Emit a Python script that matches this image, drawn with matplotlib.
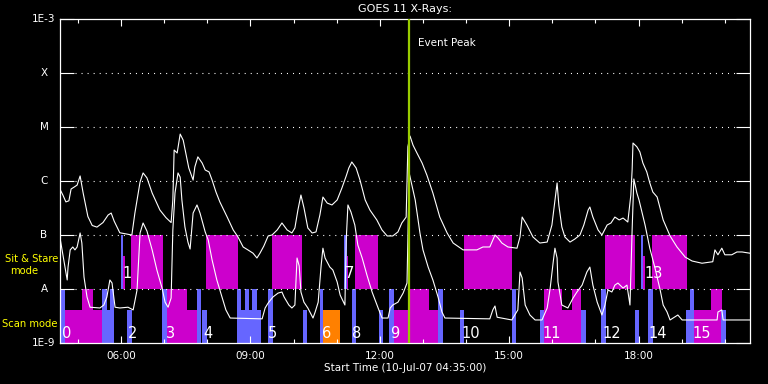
import matplotlib
matplotlib.use("Agg")
import matplotlib.pyplot as plt
from matplotlib.ticker import FixedLocator, NullLocator

plt.rcParams['lines.scale_dashes'] = False
plt.rcParams['font.family'] = 'DejaVu Sans'

# time axis in hours of day (UT), 10-Jul-07
t_start = 4 + 35 / 60.
t_end = t_start + 16
event_peak = 12.68

# GOES 11 long channel (1-8 A), W/m^2
long_t = [4.58, 4.65, 4.72, 4.79, 4.84, 4.91, 4.98, 5.05, 5.12, 5.23,
          5.33, 5.44, 5.58, 5.70, 5.77, 5.84, 5.97, 6.14, 6.25, 6.32,
          6.39, 6.44, 6.51, 6.60, 6.72, 6.90, 7.04, 7.16, 7.20, 7.23,
          7.30, 7.37, 7.44, 7.51, 7.57, 7.67, 7.71, 7.78, 7.88, 7.95,
          8.04, 8.11, 8.20, 8.29, 8.46, 8.60, 8.71, 8.83, 8.94, 9.06,
          9.15, 9.22, 9.31, 9.41, 9.50, 9.62, 9.73, 9.85, 9.96, 10.03,
          10.10, 10.17, 10.24, 10.33, 10.43, 10.52, 10.61, 10.68, 10.78, 10.89,
          11.01, 11.12, 11.22, 11.28, 11.35, 11.45, 11.54, 11.66, 11.77, 11.93,
          12.05, 12.17, 12.30, 12.42, 12.51, 12.61, 12.65, 12.70, 12.77, 12.86,
          12.98, 13.09, 13.23, 13.39, 13.56, 13.70, 13.93, 14.25, 14.39, 14.55,
          14.67, 14.74, 14.83, 14.97, 15.18, 15.25, 15.30, 15.41, 15.55, 15.71,
          15.88, 15.99, 16.06, 16.11, 16.15, 16.22, 16.29, 16.41, 16.52, 16.64,
          16.73, 16.83, 16.87, 16.94, 17.06, 17.15, 17.27, 17.36, 17.45, 17.55,
          17.64, 17.75, 17.82, 17.85, 17.87, 17.96, 18.03, 18.10, 18.19, 18.26,
          18.33, 18.43, 18.57, 18.73, 18.89, 19.08, 19.24, 19.47, 19.72, 19.77,
          19.84, 19.93, 20.00, 20.16, 20.28, 20.40, 20.58]
long_flux = [7.1e-7, 5.5e-7, 4.1e-7, 4.3e-7, 7.1e-7, 7.7e-7, 8.4e-7, 1.24e-6, 6.0e-7, 2.2e-7,
             1.5e-7, 1.4e-7, 1.7e-7, 2.35e-7, 2.55e-7, 1.8e-7, 1.1e-7, 1.04e-7, 1.0e-7, 2.55e-7,
             5.5e-7, 9.6e-7, 1.41e-6, 1.14e-6, 6.0e-7, 2.9e-7, 2.1e-7, 1.7e-7, 4.45e-7, 3.75e-6,
             3.3e-6, 7.4e-6, 5.7e-6, 3.0e-6, 1.74e-6, 1.04e-6, 1.82e-6, 2.8e-6, 2.15e-6, 1.6e-6,
             1.47e-6, 1.04e-6, 6.25e-7, 4.1e-7, 2.15e-7, 1.24e-7, 9.2e-8, 6.0e-8, 5.3e-8, 4.6e-8,
             3.75e-8, 4.6e-8, 6.25e-8, 9.6e-8, 1.0e-7, 1.24e-7, 1.67e-7, 1.24e-7, 1.09e-7, 1.35e-7,
             2.9e-7, 5.5e-7, 3.2e-7, 1.35e-7, 1.09e-7, 1.14e-7, 2.35e-7, 5.05e-7, 3.9e-7, 3.6e-7,
             4.45e-7, 7.4e-7, 1.24e-6, 1.74e-6, 2.25e-6, 1.74e-6, 1.04e-6, 4.45e-7, 2.9e-7, 1.9e-7,
             1.24e-7, 9.6e-8, 9.6e-8, 1.14e-7, 1.67e-7, 2.15e-7, 4.3e-6, 6.8e-6, 4.6e-6, 3.3e-6,
             2.15e-6, 1.29e-6, 6.0e-7, 2.15e-7, 1.09e-7, 7.1e-8, 5.3e-8, 5.3e-8, 6.0e-8, 6.0e-8,
             1.0e-7, 8.8e-8, 7.1e-8, 6.0e-8, 5.7e-8, 9.2e-8, 2.15e-7, 1.53e-7, 9.2e-8, 7.1e-8,
             7.4e-8, 1.53e-7, 4.45e-7, 9.2e-7, 3.6e-7, 1.41e-7, 9.2e-8, 7.4e-8, 8.4e-8, 1.0e-7,
             1.53e-7, 2.9e-7, 3.3e-7, 2.15e-7, 1.24e-7, 1.0e-7, 1.53e-7, 1.67e-7, 2.15e-7, 1.9e-7,
             2.06e-7, 1.74e-7, 5.5e-7, 1.6e-6, 5.05e-6, 4.3e-6, 3.45e-6, 2.15e-6, 1.47e-6, 9.2e-7,
             6.25e-7, 5.05e-7, 1.9e-7, 9.6e-8, 6.0e-8, 3.9e-8, 3.3e-8, 3.0e-8, 3.2e-8, 5.3e-8,
             4.3e-8, 5.7e-8, 4.3e-8, 4.3e-8, 4.85e-8, 4.85e-8, 4.6e-8]

# GOES 11 short channel (0.5-4 A)
short_t = [4.58, 4.65, 4.70, 4.75, 4.77, 4.82, 4.88, 4.93, 4.98, 5.05,
           5.09, 5.14, 5.21, 5.28, 5.51, 5.60, 5.67, 5.74, 5.79, 5.86,
           5.97, 6.16, 6.28, 6.37, 6.44, 6.51, 6.60, 6.72, 6.83, 6.95,
           7.02, 7.09, 7.16, 7.20, 7.25, 7.32, 7.37, 7.41, 7.48, 7.55,
           7.60, 7.67, 7.76, 7.83, 7.95, 8.02, 8.11, 8.22, 8.34, 8.43,
           8.53, 9.27, 9.34, 9.41, 9.52, 9.64, 9.73, 9.78, 9.89, 9.96,
           10.03, 10.08, 10.13, 10.17, 10.24, 10.33, 10.45, 10.50, 10.57, 10.64,
           10.68, 10.73, 10.84, 10.91, 11.01, 11.08, 11.19, 11.22, 11.26, 11.33,
           11.42, 11.49, 11.59, 11.70, 11.82, 11.89, 11.96, 12.05, 12.19, 12.24,
           12.30, 12.42, 12.54, 12.63, 12.68, 12.77, 12.82, 12.93, 13.00, 13.12,
           13.23, 13.35, 13.44, 13.51, 14.55, 14.62, 14.67, 14.72, 15.06, 15.20,
           15.25, 15.30, 15.37, 15.48, 15.60, 15.76, 15.88, 15.95, 16.02, 16.06,
           16.11, 16.13, 16.22, 16.36, 16.48, 16.57, 16.69, 16.80, 16.87, 16.94,
           17.04, 17.15, 17.22, 17.29, 17.38, 17.45, 17.52, 17.64, 17.73, 17.80,
           17.85, 17.89, 17.96, 18.01, 18.15, 18.26, 18.38, 18.50, 18.57, 18.66,
           18.73, 18.91, 19.01, 19.82, 19.84, 19.93, 19.96, 20.58]
short_flux = [9.2e-8, 4.3e-8, 2.55e-8, 1.47e-8, 2.55e-8, 5.3e-8, 6.0e-8, 5.3e-8, 6.0e-8, 1.09e-7,
              7.1e-8, 1.67e-8, 7.1e-9, 4.6e-9, 4.45e-9, 5.05e-9, 7.1e-9, 1.47e-8, 1.29e-8, 4.6e-9,
              4.45e-9, 4.6e-9, 4.1e-9, 9.6e-9, 1.09e-7, 1.67e-7, 1.18e-7, 5.3e-8, 2.25e-8, 1.04e-8,
              5.7e-9, 4.6e-9, 6.8e-9, 1.24e-7, 6.0e-7, 1.41e-6, 1.18e-6, 4.45e-7, 1.41e-7, 7.4e-8,
              5.5e-8, 2.55e-7, 3.6e-7, 2.55e-7, 1.14e-7, 8.1e-8, 3.45e-8, 1.47e-8, 7.1e-9, 4.1e-9,
              2.9e-9, 2.8e-9, 4.45e-9, 5.5e-9, 7.1e-9, 8.4e-9, 8.8e-9, 7.1e-9, 5.05e-9, 4.45e-9,
              5.05e-9, 3.75e-8, 2.67e-8, 8.8e-9, 5.7e-9, 4.45e-9, 2.9e-9, 3.75e-9, 5.7e-9, 2.8e-8,
              5.7e-8, 3.75e-8, 2.55e-8, 2.25e-8, 1.35e-8, 7.7e-9, 5.05e-9, 8.1e-8, 3.6e-7, 2.67e-7,
              1.53e-7, 6.5e-8, 3.75e-8, 1.82e-8, 8.8e-9, 6.25e-9, 4.45e-9, 2.9e-9, 2.9e-9, 4.45e-9,
              5.05e-9, 5.7e-9, 8.4e-9, 1.29e-8, 1.41e-6, 6.8e-7, 4.45e-7, 1.09e-7, 5.3e-8, 2.55e-8,
              1.47e-8, 7.1e-9, 3.75e-9, 2.9e-9, 2.8e-9, 4.1e-9, 4.85e-9, 3.0e-9, 2.67e-9, 4.1e-9,
              2.06e-8, 1.6e-8, 5.05e-9, 3.3e-9, 2.67e-9, 2.67e-9, 4.45e-9, 1.04e-8, 3.16e-8, 5.7e-8,
              3.75e-8, 1.35e-8, 5.05e-9, 4.45e-9, 6.8e-9, 8.8e-9, 1.18e-8, 2.06e-8, 2.55e-8, 1.18e-8,
              5.7e-9, 3.3e-9, 5.05e-9, 9.6e-9, 8.8e-9, 1.18e-8, 1.29e-8, 1.04e-8, 1.18e-8, 5.05e-9,
              1.24e-7, 1.09e-6, 6.0e-7, 4.45e-7, 1.53e-7, 5.7e-8, 2.45e-8, 9.6e-9, 5.05e-9, 3.75e-9,
              2.67e-9, 3.3e-9, 2.67e-9, 2.67e-9, 3.75e-9, 4.1e-9, 2.67e-9, 2.67e-9]

# sit & stare blocks (between A and B levels)
sit_start = [6.00, 6.04, 6.23, 7.97, 9.50, 11.17, 11.24, 11.42, 13.95, 17.22, 18.06, 18.10, 18.31]
sit_end = [6.04, 6.09, 6.97, 8.71, 10.19, 11.24, 11.26, 11.96, 15.06, 17.92, 18.10, 18.15, 19.12]
sit_top = [1e-7, 4.1e-8, 1e-7, 1e-7, 1e-7, 1e-7, 4.1e-8, 1e-7, 1e-7, 1e-7, 1e-7, 4.1e-8, 1e-7]
sit_kind = ['b', 'm', 'm', 'm', 'm', 'b', 'm', 'm', 'm', 'm', 'b', 'm', 'm']

# scan mode blocks (below A level)
scan_start = [4.58, 4.70, 5.09, 5.56, 5.67, 5.74, 6.14, 6.95, 7.06, 7.53,
              7.76, 7.88, 8.69, 8.69, 8.87, 9.04, 9.41, 10.22, 10.61, 10.68,
              11.35, 11.98, 12.21, 12.33, 12.70, 13.14, 13.35, 13.86, 15.06, 15.71,
              15.81, 16.22, 16.46, 16.66, 17.13, 17.92, 18.22, 19.10, 19.19, 19.28,
              19.68, 19.91]
scan_end = [4.70, 5.56, 5.35, 5.67, 5.74, 5.84, 6.25, 7.06, 7.53, 7.76,
            7.85, 7.99, 9.24, 8.78, 8.97, 9.15, 9.52, 10.31, 10.68, 11.08,
            11.45, 12.07, 12.33, 12.70, 13.14, 13.35, 13.46, 13.95, 15.16, 15.81,
            16.22, 16.46, 16.66, 16.78, 17.24, 18.01, 18.33, 19.19, 19.28, 19.68,
            19.93, 20.03]
scan_top = [1e-8, 4.1e-9, 1e-8, 1e-8, 4.1e-9, 1e-8, 4.1e-9, 1e-8, 1e-8, 4.1e-9,
            1e-8, 4.1e-9, 4.1e-9, 1e-8, 1e-8, 1e-8, 1e-8, 4.1e-9, 1e-8, 4.1e-9,
            1e-8, 4.1e-9, 1e-8, 4.1e-9, 1e-8, 4.1e-9, 1e-8, 4.1e-9, 1e-8, 4.1e-9,
            1e-8, 4.1e-9, 1e-8, 4.1e-9, 1e-8, 4.1e-9, 1e-8, 4.1e-9, 1e-8, 4.1e-9,
            1e-8, 4.1e-9]
scan_kind = ['b', 'm', 'm', 'b', 'b', 'b', 'b', 'b', 'm', 'm',
             'b', 'b', 'b', 'b', 'b', 'b', 'b', 'b', 'b', 'o',
             'b', 'b', 'b', 'm', 'm', 'm', 'b', 'b', 'b', 'b',
             'm', 'm', 'm', 'b', 'b', 'b', 'b', 'b', 'b', 'm',
             'm', 'b']

scan_labels = ['0', '2', '3', '4', '5', '6', '8', '9', '10', '11', '12', '14', '15']
scan_label_t = [4.63, 6.16, 7.04, 7.90, 9.41, 10.66, 11.35, 12.24, 13.90, 15.76, 17.17, 18.22, 19.24]
sit_labels = ['1', '7', '13']
sit_label_t = [6.04, 11.19, 18.13]

class_levels = [1e-3, 1e-4, 1e-5, 1e-6, 1e-7, 1e-8, 1e-9]
class_names = ['1E-3', 'X', 'M', 'C', 'B', 'A', '1E-9']
hour_ticks = [6, 9, 12, 15, 18]
hour_names = ['06:00', '09:00', '12:00', '15:00', '18:00']

kind_color = {'b': '#6666ff', 'm': '#cc00cc', 'o': '#ff8000'}
level_a = 1e-8
level_floor = 1e-9

fig = plt.figure(figsize=(7.68, 3.84), dpi=100, facecolor='black')
ax = fig.add_axes([60 / 768, 41 / 384, 690 / 768, 324 / 384], facecolor='black')
ax.set_yscale('log')

for s, e, top, k in zip(sit_start, sit_end, sit_top, sit_kind):
    ax.bar(s, top - level_a, width=e - s, bottom=level_a, align='edge',
           color=kind_color[k], lw=0, zorder=1)
for s, e, top, k in zip(scan_start, scan_end, scan_top, scan_kind):
    ax.bar(s, top - level_floor, width=e - s, bottom=level_floor, align='edge',
           color=kind_color[k], lw=0, zorder=1)

# dotted class lines
for lv in class_levels[1:-1]:
    ax.axhline(lv, 0.022, 0.98, color='white', lw=0.8,
               linestyle=(0, (0.75, 3.6)), zorder=2)

ax.plot(long_t, long_flux, color='white', lw=0.8, zorder=3)
ax.plot(short_t, short_flux, color='white', lw=0.8, zorder=3)

ax.axvline(event_peak, color='#99cc00', lw=1.6, zorder=4)
ax.annotate('Event Peak', xy=(event_peak, 3.6e-4), xytext=(6, 0),
            textcoords='offset points', ha='left', va='center',
            color='white', fontsize=7.5)

for lab, t in zip(scan_labels, scan_label_t):
    ax.text(t, 1.24e-9, lab, color='white', fontsize=10.5, ha='left',
            va='baseline', zorder=5)
for lab, t in zip(sit_labels, sit_label_t):
    ax.text(t, 1.6e-8, lab, color='white', fontsize=10.5, ha='left',
            va='baseline', zorder=5)

ax.set_xlim(t_start, t_end)
ax.set_ylim(level_floor, 1e-3)

ax.xaxis.set_major_locator(FixedLocator(hour_ticks))
ax.xaxis.set_minor_locator(FixedLocator(range(5, 21)))
ax.set_xticklabels(hour_names)
ax.yaxis.set_major_locator(FixedLocator(class_levels))
ax.yaxis.set_minor_locator(NullLocator())

ax.tick_params(axis='x', which='both', direction='in', top=True, bottom=True,
               colors='white', labelsize=7.5, pad=5.5, width=0.8)
ax.tick_params(axis='x', which='major', length=5)
ax.tick_params(axis='x', which='minor', length=3)
ax.tick_params(axis='y', which='major', direction='in', left=True, right=True,
               length=10, width=0.8, colors='white', labelleft=False)
for sp in ax.spines.values():
    sp.set_color('white')
    sp.set_linewidth(0.9)

ytr = ax.get_yaxis_transform()
for lv, name in zip(class_levels, class_names):
    ax.text(-0.0232, lv, name, transform=ytr, ha='center', va='center',
            color='white', fontsize=7.5)
ax.text(-0.041, 3.6e-8, 'Sit & Stare', transform=ytr, ha='center', va='center',
        color='yellow', fontsize=7.2)
ax.text(-0.0514, 2.15e-8, 'mode', transform=ytr, ha='center', va='center',
        color='yellow', fontsize=7.2)
ax.text(-0.0443, 2.25e-9, 'Scan mode', transform=ytr, ha='center', va='center',
        color='yellow', fontsize=7.2)

ax.text(0.5, 1.031, 'GOES 11 X-Rays:', transform=ax.transAxes, ha='center',
        va='center', color='white', fontsize=8)
ax.text(0.5, -0.077, 'Start Time (10-Jul-07 04:35:00)', transform=ax.transAxes,
        ha='center', va='center', color='white', fontsize=7.5)

fig.savefig('out.png', dpi=100, facecolor='black')
